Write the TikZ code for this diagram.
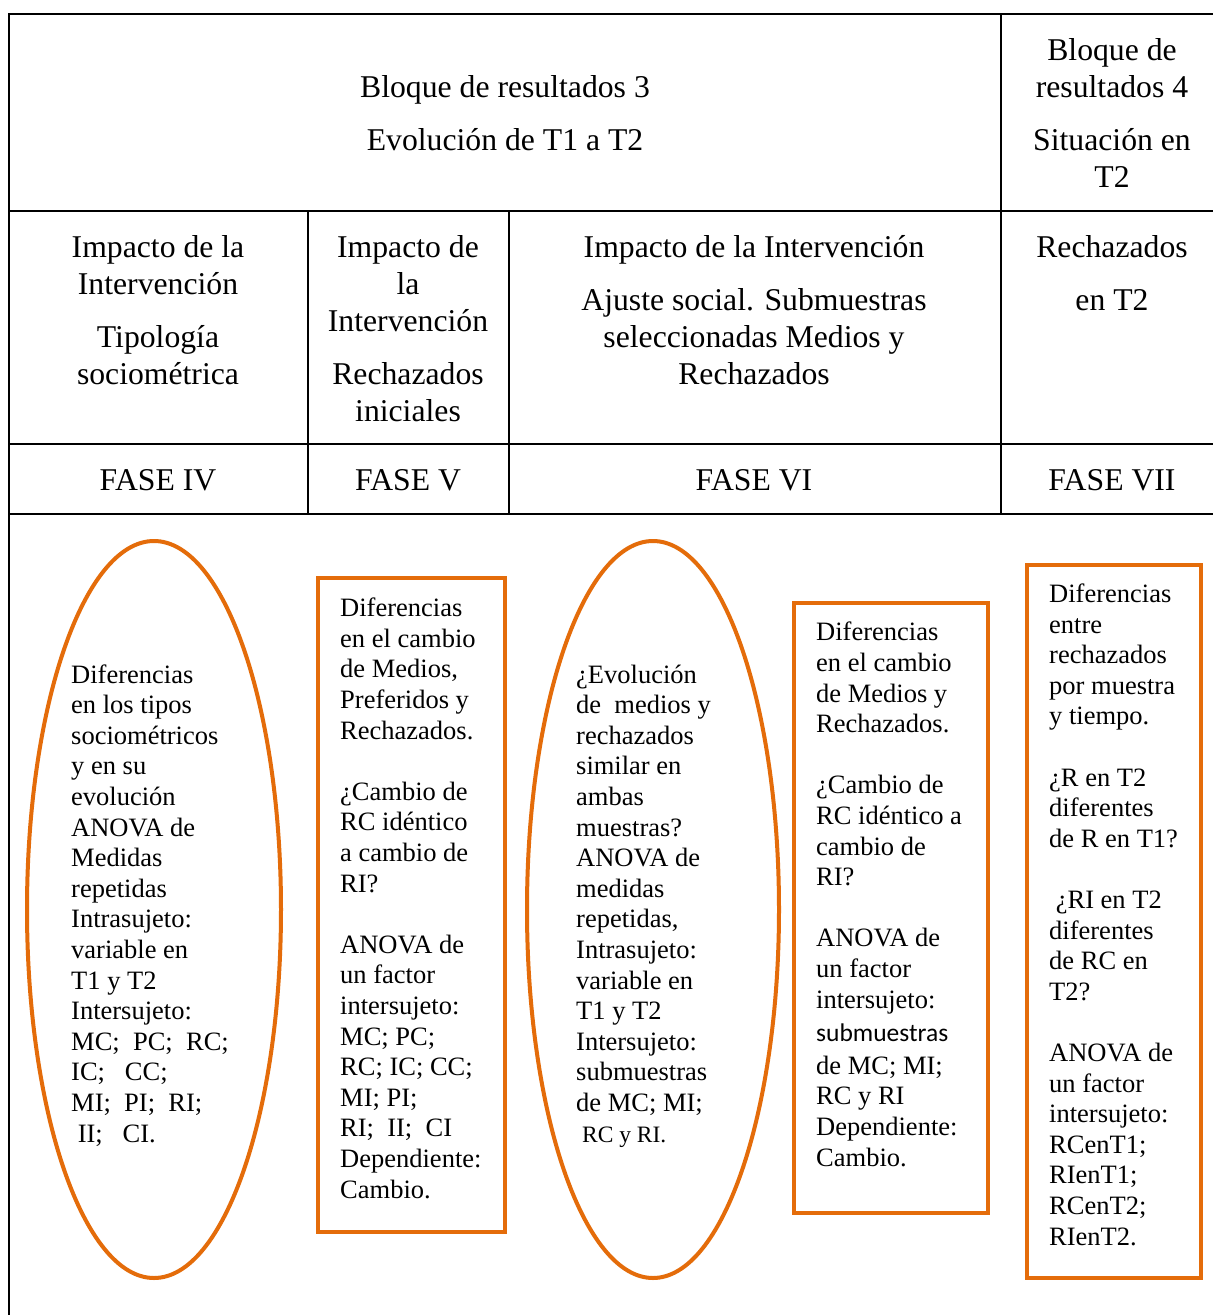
\documentclass[tikz,border=0pt]{standalone}
\usepackage{fontspec}
\setmainfont{Liberation Serif}
\newfontfamily\carlito{Carlito}
\usetikzlibrary{shapes.geometric}
\definecolor{boxorange}{HTML}{E46C0A}
\begin{document}
\begin{tikzpicture}[x=1pt,y=-1pt,
  grid/.style={line width=1.6pt},
  head/.style={font=\fontsize{31.7}{37}\selectfont, align=center, anchor=base, inner sep=0pt},
  body/.style={font=\fontsize{26.5}{30.6}\selectfont, align=left, anchor=base west, inner sep=0pt},
  oval/.style={draw=boxorange, line width=4pt, ellipse, inner sep=0pt},
  frame/.style={draw=boxorange, line width=4pt, rectangle, inner sep=0pt}]
\useasboundingbox (0,0) rectangle (1213,1315);
\fill[white] (0,0) rectangle (1213,1315);

% table grid
\draw[grid] (9,1315) -- (9,14) -- (1213,14);
\draw[grid] (9,211) -- (1213,211);
\draw[grid] (9,444) -- (1213,444);
\draw[grid] (9,514) -- (1213,514);
\draw[grid] (1001,14) -- (1001,514);
\draw[grid] (308,211) -- (308,514);
\draw[grid] (509,211) -- (509,514);

% (multi-line nodes are placed by the baseline of their last line)
% header row 1
\node[head] (b3) at (505,150) {Bloque de resultados 3\\[16pt]Evolución de T1 a T2};
\node[head] (b4) at (1112,187) {Bloque de\\resultados 4\\[16pt]Situación en\\T2};

% header row 2
\node[head] (h1) at (158,384) {Impacto de la\\Intervención\\[16pt]Tipología\\sociométrica};
\node[head] (h2) at (408,421) {Impacto de\\la\\Intervención\\[16pt]Rechazados\\iniciales};
\node[head] (h3) at (754,384) {Impacto de la Intervención\\[16pt]Ajuste social. Submuestras\\seleccionadas Medios y\\Rechazados};
\node[head] (h4) at (1112,310) {Rechazados\\[16pt]en T2};

% phase row
\node[head] (f4) at (158,490) {FASE IV};
\node[head] (f5) at (408,490) {FASE V};
\node[head] (f6) at (754,490) {FASE VI};
\node[head] (f7) at (1112,490) {FASE VII};

% shapes
\node[oval, minimum width=254pt, minimum height=737pt] (e1) at (154,909.5) {};
\node[frame, minimum width=187pt, minimum height=654pt] (r2) at (411.5,905) {};
\node[oval, minimum width=252pt, minimum height=737pt] (e2) at (653,909.5) {};
\node[frame, minimum width=194pt, minimum height=610pt] (r3) at (891,908) {};
\node[frame, minimum width=174pt, minimum height=713pt] (r4) at (1114,921) {};

% texts
\node[body] (t1) at (71,1142) {Diferencias\\en los tipos\\sociométricos\\y en su\\evolución\\ANOVA de\\Medidas\\repetidas\\Intrasujeto:\\variable en\\T1 y T2\\Intersujeto:\\MC;\ \ PC;\ \ RC;\\IC;\ \ \ CC;\\MI;\ \ PI;\ \ RI;\\\ II;\ \ \ CI.};

\node[body] (t2) at (340,1198) {Diferencias\\en el cambio\\de Medios,\\Preferidos y\\Rechazados.\\[30.6pt]¿Cambio de\\RC idéntico\\a cambio de\\RI?\\[30.6pt]ANOVA de\\un factor\\intersujeto:\\MC; PC;\\RC; IC; CC;\\MI; PI;\\RI;\ \ II;\ \ CI\\Dependiente:\\Cambio.};

\node[body] (t3) at (576,1142) {¿Evolución\\de\ \ medios y\\rechazados\\similar en\\ambas\\muestras?\\ANOVA de\\medidas\\repetidas,\\Intrasujeto:\\variable en\\T1 y T2\\Intersujeto:\\submuestras\\de MC; MI;\\{\fontsize{23.5}{30.6}\selectfont\ RC y RI.}};

\node[body] (t4) at (816,1166) {Diferencias\\en el cambio\\de Medios y\\Rechazados.\\[30.6pt]¿Cambio de\\RC idéntico a\\cambio de\\RI?\\[30.6pt]ANOVA de\\un factor\\intersujeto:\\[3pt]{\carlito\fontsize{25.5}{30.6}\selectfont submuestras}\\[2pt]de MC; MI;\\RC y RI\\Dependiente:\\Cambio.};

\node[body] (t5) at (1049,1245) {Diferencias\\entre\\rechazados\\por muestra\\y tiempo.\\[30.6pt]¿R en T2\\diferentes\\de R en T1?\\[30.6pt]\ ¿RI en T2\\diferentes\\de RC en\\T2?\\[30.6pt]ANOVA de\\un factor\\intersujeto:\\RCenT1;\\RIenT1;\\RCenT2;\\RIenT2.};
\end{tikzpicture}
\end{document}
